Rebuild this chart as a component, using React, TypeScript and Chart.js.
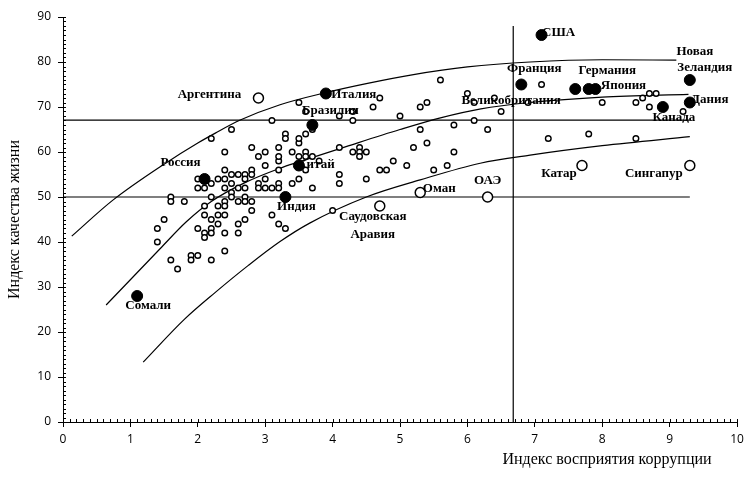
import React, { useEffect, useRef } from "react";
import { Chart, registerables } from "chart.js";

Chart.register(...registerables);

// ---------- DATA ----------
const xTicks = [0, 1, 2, 3, 4, 5, 6, 7, 8, 9, 10];
const yTicks = [0, 10, 20, 30, 40, 50, 60, 70, 80, 90];

// other (unlabelled) countries: [CPI, quality of life]
const otherCountries: [number, number][] = [
  [1.4, 40], [1.4, 43], [1.5, 45], [1.6, 36], [1.7, 34], [1.9, 37], [1.9, 36], [2.0, 37], [2.2, 36], [2.4, 38],
  [1.6, 50], [1.6, 49], [1.8, 49],
  [2.0, 54], [2.0, 52], [2.1, 52], [2.2, 53], [2.3, 54], [2.2, 50], [2.1, 48], [2.1, 46], [2.3, 48], [2.3, 46],
  [2.3, 44], [2.2, 45], [2.2, 43], [2.0, 43], [2.1, 42], [2.1, 41], [2.2, 42], [2.4, 42], [2.6, 42], [2.6, 44],
  [2.7, 45], [2.4, 46], [2.4, 49], [2.4, 48], [2.5, 51], [2.5, 50], [2.6, 49], [2.7, 50], [2.7, 49], [2.8, 49],
  [2.8, 47], [3.1, 46], [3.2, 44], [3.3, 43],
  [2.4, 56], [2.4, 54], [2.4, 52], [2.5, 55], [2.5, 53], [2.6, 55], [2.7, 55], [2.7, 54], [2.8, 56], [2.8, 55],
  [2.7, 52], [2.6, 52], [2.9, 53], [2.9, 52], [3.0, 54], [3.0, 52], [3.1, 52], [3.2, 53], [3.2, 52], [3.0, 57],
  [3.2, 58], [3.2, 56], [3.4, 53], [3.5, 54], [3.6, 56], [3.7, 52], [4.1, 55], [4.1, 53], [4.0, 47],
  [3.5, 62], [3.5, 63], [3.3, 64], [3.3, 63], [3.6, 64], [3.7, 65], [3.1, 67], [2.5, 65], [2.2, 63], [2.4, 60],
  [2.8, 61], [2.9, 59], [3.0, 60], [3.2, 61], [3.2, 59], [3.4, 60], [3.5, 59], [3.6, 60], [3.6, 59], [3.7, 59],
  [3.8, 58], [3.5, 71], [3.6, 69],
  [4.3, 69], [4.7, 72], [4.6, 70], [4.1, 68], [4.3, 67], [5.0, 68], [5.6, 76], [5.3, 70], [5.4, 71], [6.0, 73],
  [6.1, 71], [6.1, 67], [5.8, 66], [6.3, 65], [5.3, 65], [5.4, 62], [5.2, 61], [5.8, 60], [5.7, 57], [5.5, 56],
  [5.1, 57], [4.9, 58], [4.7, 56], [4.8, 56], [4.5, 54], [4.1, 61], [4.3, 60], [4.4, 61], [4.4, 60], [4.4, 59],
  [4.5, 60], [6.4, 72], [6.5, 69], [6.9, 71],
  [7.1, 75], [8.0, 71], [8.5, 71], [8.6, 72], [8.7, 73], [8.8, 73], [8.7, 70], [9.2, 69], [7.2, 63], [7.8, 64],
  [8.5, 63],
];

// highlighted countries (filled markers)
const filledNames = ["США", "Франция", "Германия", "", "Япония", "Новая Зеландия", "Дания", "Канада",
  "Италия", "Бразилия", "Китай", "Россия", "Индия", "Сомали"];
const filledX = [7.1, 6.8, 7.6, 7.8, 7.9, 9.3, 9.3, 8.9, 3.9, 3.7, 3.5, 2.1, 3.3, 1.1];
const filledY = [86, 75, 74, 74, 74, 76, 71, 70, 73, 66, 57, 54, 50, 28];

// highlighted countries (large open markers)
const openNames = ["Аргентина", "Саудовская Аравия", "Оман", "ОАЭ", "Катар", "Сингапур"];
const openX = [2.9, 4.7, 5.3, 6.3, 7.7, 9.3];
const openY = [72, 48, 51, 50, 57, 57];

// trend curves
const upperCurveX = [0.13, 0.74, 1.5, 2.0, 2.26, 2.63, 3.22, 3.9, 4.5, 5.2, 6.0, 6.93, 8.0, 9.1];
const upperCurveY = [41.3, 49.3, 57.3, 62.0, 64.2, 67.1, 70.5, 73.2, 75.2, 77.2, 78.9, 80.0, 80.5, 80.4];
const middleCurveX = [0.64, 1.44, 1.83, 2.2, 2.7, 3.22, 3.5, 4.2, 5.0, 5.6, 6.2, 6.93, 8.0, 9.28];
const middleCurveY = [26.0, 38.5, 44.5, 49.0, 53.2, 56.4, 57.8, 61.2, 65.0, 67.6, 69.6, 71.0, 72.2, 72.8];
const lowerCurveX = [1.19, 1.8, 2.26, 2.75, 3.22, 3.66, 4.5, 5.3, 6.19, 6.93, 8.0, 9.3];
const lowerCurveY = [13.3, 22.8, 28.8, 34.8, 40.1, 44.2, 50.0, 53.8, 57.5, 59.3, 61.4, 63.4];

// reference lines
const hLineHigh = 67.1;
const hLineLow = 50;
const hLineEnd = 9.3;
const vLineX = 6.68;
const vLineTop = 88;

const xTitle = "Индекс восприятия коррупции";
const yTitle = "Индекс качества жизни";

// ---------- label placement (pixel offsets from marker) ----------
const filledLabelOffsets: Record<string, [number, number][]> = {
  "США": [[17, -2]],
  "Франция": [[13, -16]],
  "Германия": [[32, -18]],
  "Япония": [[28, -3]],
  "Новая Зеландия": [[5, -28], [15, -12]],
  "Дания": [[20, -3]],
  "Канада": [[11, 11]],
  "Италия": [[28, 1]],
  "Бразилия": [[18, -14]],
  "Китай": [[17, -1]],
  "Россия": [[-24, -16]],
  "Индия": [[11, 10]],
  "Сомали": [[11, 10]],
};
const openLabelOffsets: Record<string, [number, number][]> = {
  "Аргентина": [[-49, -3]],
  "Саудовская Аравия": [[-7, 11], [-7, 29]],
  "Оман": [[19, -4]],
  "ОАЭ": [[0, -16]],
  "Катар": [[-23, 8]],
  "Сингапур": [[-36, 8]],
};
const extraLabel = { text: "Великобритания", x: 6.9, y: 71, dx: -17, dy: -2 };

const SERIF = "'Liberation Serif', 'Times New Roman', serif";

const labelsPlugin = {
  id: "countryLabels",
  afterDatasetsDraw(chart: any) {
    const ctx = chart.ctx;
    const xs = chart.scales.x;
    const ys = chart.scales.y;
    ctx.save();
    ctx.fillStyle = "#000";
    ctx.font = `bold 13px ${SERIF}`;
    ctx.textAlign = "center";
    ctx.textBaseline = "middle";
    const put = (name: string, x: number, y: number, offs: [number, number][]) => {
      const words = offs.length > 1 ? name.split(" ") : [name];
      const px = xs.getPixelForValue(x);
      const py = ys.getPixelForValue(y);
      offs.forEach((o, i) => ctx.fillText(words[i], px + o[0], py + o[1]));
    };
    filledNames.forEach((n, i) => {
      if (n && filledLabelOffsets[n]) put(n, filledX[i], filledY[i], filledLabelOffsets[n]);
    });
    openNames.forEach((n, i) => {
      if (openLabelOffsets[n]) put(n, openX[i], openY[i], openLabelOffsets[n]);
    });
    put(extraLabel.text, extraLabel.x, extraLabel.y, [[extraLabel.dx, extraLabel.dy]]);

    // axis titles
    ctx.font = `16px ${SERIF}`;
    ctx.fillText(xTitle, 607, 460);
    ctx.save();
    ctx.translate(15, (chart.chartArea.top + chart.chartArea.bottom) / 2);
    ctx.rotate(-Math.PI / 2);
    ctx.fillText(yTitle, 0, 0);
    ctx.restore();

    // minor ticks (inside)
    ctx.strokeStyle = "#000";
    ctx.lineWidth = 1;
    const ca = chart.chartArea;
    ctx.beginPath();
    for (let i = 0; i <= 100; i++) {
      const px = Math.round(xs.getPixelForValue(i / 10)) + 0.5;
      ctx.moveTo(px, ca.bottom);
      ctx.lineTo(px, ca.bottom - 3);
    }
    for (let j = 0; j <= 90; j++) {
      const py = Math.round(ys.getPixelForValue(j)) + 0.5;
      ctx.moveTo(ca.left, py);
      ctx.lineTo(ca.left + 3, py);
    }
    ctx.stroke();
    ctx.restore();
  },
};

const curve = (xsArr: number[], ysArr: number[]) => xsArr.map((x, i) => ({ x, y: ysArr[i] }));

export default function App() {
  const ref = useRef<HTMLCanvasElement>(null);
  useEffect(() => {
    if (!ref.current) return;
    const lineStyle = {
      type: "line" as const,
      borderColor: "#000",
      borderWidth: 1.2,
      pointRadius: 0,
      fill: false,
      showLine: true,
    };
    const chart = new Chart(ref.current, {
      type: "scatter",
      data: {
        datasets: [
          {
            label: "filled",
            data: filledX.map((x, i) => ({ x, y: filledY[i] })),
            pointRadius: 5.5,
            pointBackgroundColor: "#000",
            pointBorderColor: "#000",
            pointBorderWidth: 1,
          },
          {
            label: "open-big",
            data: openX.map((x, i) => ({ x, y: openY[i] })),
            pointRadius: 5,
            pointBackgroundColor: "#fff",
            pointBorderColor: "#000",
            pointBorderWidth: 1.5,
          },
          {
            label: "others",
            data: otherCountries.map(([x, y]) => ({ x, y })),
            pointRadius: 2.8,
            pointBackgroundColor: "#fff",
            pointBorderColor: "#000",
            pointBorderWidth: 1.4,
          },
          { ...lineStyle, label: "upper", data: curve(upperCurveX, upperCurveY), cubicInterpolationMode: "monotone" },
          { ...lineStyle, label: "middle", data: curve(middleCurveX, middleCurveY), cubicInterpolationMode: "monotone" },
          { ...lineStyle, label: "lower", data: curve(lowerCurveX, lowerCurveY), cubicInterpolationMode: "monotone" },
          { ...lineStyle, label: "h67", data: [{ x: 0, y: hLineHigh }, { x: hLineEnd, y: hLineHigh }] },
          { ...lineStyle, label: "h50", data: [{ x: 0, y: hLineLow }, { x: hLineEnd, y: hLineLow }] },
          { ...lineStyle, label: "v", data: [{ x: vLineX, y: 0 }, { x: vLineX, y: vLineTop }] },
        ] as any,
      },
      options: {
        responsive: false,
        animation: false,
        layout: { padding: { top: 17, right: 9, left: 0, bottom: 0 } },
        plugins: { legend: { display: false }, tooltip: { enabled: false } },
        scales: {
          x: {
            type: "linear",
            min: 0,
            max: 10,
            afterBuildTicks: (s: any) => { s.ticks = xTicks.map((v) => ({ value: v })); },
            afterFit: (s: any) => { s.height = 69; s.paddingLeft = 0; s.paddingRight = 0; },
            grid: { drawOnChartArea: false, color: "#000", tickLength: 5 },
            border: { color: "#000", width: 1 },
            ticks: { color: "#000", font: { family: "'Open Sans', sans-serif", size: 12 }, padding: 5, maxRotation: 0 },
          },
          y: {
            type: "linear",
            min: 0,
            max: 90,
            afterBuildTicks: (s: any) => { s.ticks = yTicks.map((v) => ({ value: v })); },
            afterFit: (s: any) => { s.width = 63; s.paddingTop = 0; s.paddingBottom = 0; },
            grid: { drawOnChartArea: false, color: "#000", tickLength: 5 },
            border: { color: "#000", width: 1 },
            ticks: { color: "#000", font: { family: "'Open Sans', sans-serif", size: 12 }, padding: 7 },
          },
        },
      },
      plugins: [labelsPlugin],
    });
    return () => chart.destroy();
  }, []);
  return (
    <div style={{ position: "absolute", left: 0, top: 0, width: 746, height: 491, background: "#fff" }}>
      <canvas ref={ref} width={746} height={491} style={{ width: 746, height: 491 }} />
    </div>
  );
}
